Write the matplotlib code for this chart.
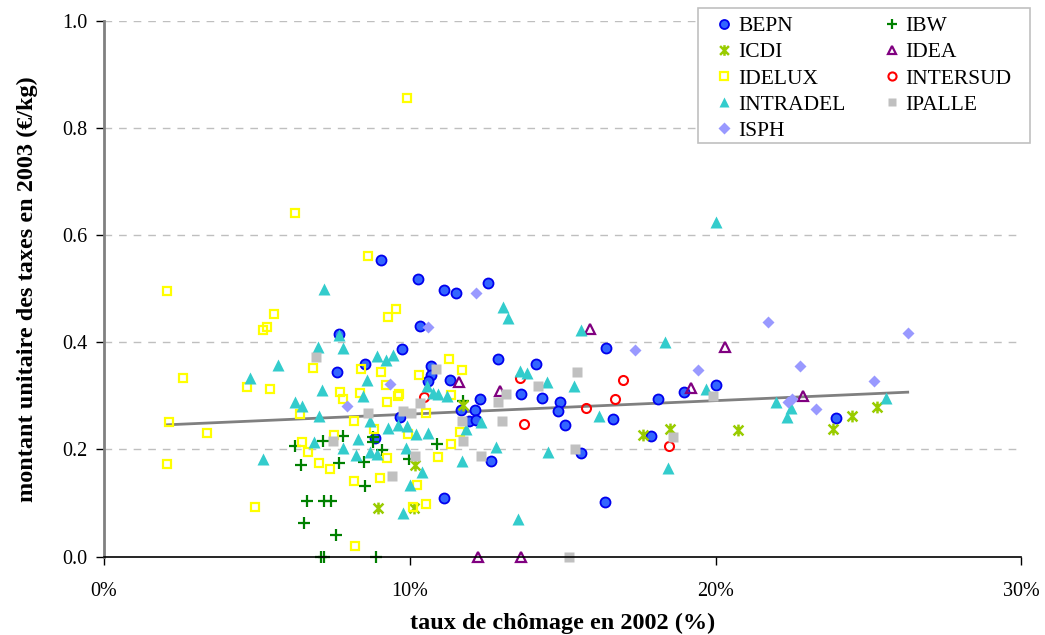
import matplotlib as mpl
mpl.use('Agg')
import matplotlib.pyplot as plt
from matplotlib.path import Path
from matplotlib.patches import Rectangle
from matplotlib.ticker import FuncFormatter, MultipleLocator

plt.rcParams['font.family'] = 'Liberation Serif'

# taux de chomage 2002 (%) / montant unitaire 2003 (EUR/kg), par intercommunale
bepn_x = [9.05, 10.28, 11.11, 11.52, 12.56, 10.33, 7.70, 9.73, 8.54, 7.61,
          12.89, 14.11, 10.68, 10.70, 10.60, 11.31, 13.62, 14.31, 14.91, 12.31,
          12.12, 11.67, 11.93, 12.16, 9.67, 14.83, 15.06, 8.87, 12.67, 11.12,
          16.42, 18.11, 18.96, 20.02, 16.64, 17.89, 15.60, 16.39, 23.94]
bepn_y = [0.553, 0.519, 0.498, 0.493, 0.511, 0.431, 0.415, 0.388, 0.359, 0.344,
          0.369, 0.360, 0.356, 0.339, 0.327, 0.329, 0.303, 0.297, 0.289, 0.294,
          0.274, 0.273, 0.254, 0.255, 0.261, 0.271, 0.246, 0.222, 0.179, 0.109,
          0.390, 0.294, 0.308, 0.321, 0.256, 0.226, 0.194, 0.101, 0.259]

ibw_x = [6.25, 7.17, 7.81, 8.79, 8.79, 9.10, 8.50, 6.44, 7.70, 8.55,
         6.64, 7.21, 7.43, 6.53, 7.59, 7.08, 7.18, 8.88, 11.74, 10.90, 9.97]
ibw_y = [0.207, 0.216, 0.225, 0.213, 0.224, 0.199, 0.177, 0.171, 0.175, 0.132,
         0.103, 0.103, 0.103, 0.063, 0.041, 0.0, 0.0, 0.0, 0.291, 0.210, 0.182]

icdi_x = [8.96, 10.14, 10.16, 11.74, 17.62, 18.52, 20.73, 23.85, 24.45, 25.27]
icdi_y = [0.091, 0.090, 0.171, 0.283, 0.227, 0.238, 0.236, 0.238, 0.263, 0.279]

idea_x = [11.61, 12.96, 15.90, 20.30, 19.20, 22.86, 12.24, 13.63]
idea_y = [0.326, 0.309, 0.425, 0.392, 0.314, 0.300, 0.0, 0.0]

idelux_x = [6.25, 8.63, 2.05, 9.91, 5.57, 5.33, 5.20, 9.56, 9.28, 6.85,
            8.41, 9.07, 2.57, 4.69, 5.44, 7.71, 8.37, 9.22, 7.83, 9.25,
            6.40, 2.14, 8.16, 8.83, 3.36, 7.51, 6.47, 6.68, 9.25, 7.03,
            2.05, 7.39, 9.01, 8.19, 4.93, 8.21, 11.27, 11.69, 10.29, 9.65,
            9.61, 11.36, 10.54, 9.94, 11.63, 11.34, 10.92, 10.25, 10.10, 10.54]
idelux_y = [0.641, 0.562, 0.496, 0.857, 0.453, 0.428, 0.423, 0.463, 0.448, 0.352,
            0.350, 0.344, 0.334, 0.316, 0.312, 0.307, 0.305, 0.320, 0.295, 0.289,
            0.266, 0.252, 0.254, 0.238, 0.230, 0.227, 0.213, 0.195, 0.184, 0.175,
            0.173, 0.164, 0.147, 0.142, 0.093, 0.020, 0.369, 0.349, 0.339, 0.304,
            0.299, 0.302, 0.269, 0.229, 0.232, 0.210, 0.185, 0.134, 0.092, 0.098]

intersud_x = [13.60, 10.45, 13.74, 16.96, 16.72, 15.76, 18.47]
intersud_y = [0.334, 0.298, 0.248, 0.330, 0.294, 0.277, 0.207]

intradel_x = [7.19, 7.70, 6.99, 7.81, 5.68, 8.93, 9.23, 9.45, 4.77, 8.60,
              7.13, 8.47, 6.26, 6.48, 7.04, 8.69, 9.28, 6.88, 8.30, 7.83,
              8.71, 8.93, 8.25, 5.19, 13.04, 13.20, 15.60, 13.60, 13.82, 14.48,
              15.38, 10.56, 10.76, 10.92, 11.23, 12.32, 9.61, 9.92, 10.21, 10.60,
              11.85, 9.89, 12.81, 14.53, 11.72, 10.41, 9.99, 9.78, 13.55, 18.33,
              16.20, 19.69, 21.96, 22.34, 18.43, 20.02, 25.57, 22.45]
intradel_y = [0.500, 0.413, 0.392, 0.390, 0.358, 0.375, 0.367, 0.377, 0.334, 0.330,
              0.311, 0.300, 0.289, 0.282, 0.263, 0.254, 0.240, 0.213, 0.220, 0.202,
              0.196, 0.191, 0.190, 0.182, 0.467, 0.445, 0.423, 0.347, 0.342, 0.326,
              0.319, 0.319, 0.306, 0.303, 0.300, 0.251, 0.246, 0.243, 0.229, 0.230,
              0.238, 0.202, 0.205, 0.195, 0.178, 0.157, 0.134, 0.082, 0.071, 0.400,
              0.263, 0.313, 0.288, 0.261, 0.166, 0.625, 0.297, 0.277]

ipalle_x = [6.93, 8.63, 7.48, 9.42, 10.84, 15.46, 14.20, 13.14, 10.33, 12.89,
            9.78, 10.03, 11.72, 13.03, 11.74, 15.40, 10.16, 12.32, 15.21, 19.92,
            18.61]
ipalle_y = [0.372, 0.268, 0.216, 0.151, 0.350, 0.344, 0.319, 0.304, 0.287, 0.289,
            0.272, 0.268, 0.254, 0.254, 0.215, 0.200, 0.187, 0.188, 0.0, 0.300,
            0.223]

isph_x = [12.16, 10.61, 9.35, 7.93, 17.35, 21.70, 19.43, 26.28, 22.75, 25.19,
          22.38, 22.49, 23.27]
isph_y = [0.492, 0.428, 0.323, 0.281, 0.385, 0.438, 0.349, 0.418, 0.355, 0.328,
          0.289, 0.294, 0.275]

# tendance lineaire (extremites de la droite)
trend_x = [2.05, 26.28]
trend_y = [0.246, 0.307]

# etoile type Excel : croix + trait vertical
star = Path([(-1, -1), (1, 1), (-1, 1), (1, -1), (0, -1.2), (0, 1.2)],
            [Path.MOVETO, Path.LINETO, Path.MOVETO, Path.LINETO, Path.MOVETO, Path.LINETO])

styles = {
    'BEPN': dict(marker='o', ms=7.2, mfc='#3366FF', mec='#0000EE', mew=1.3),
    'IBW': dict(marker='+', ms=8, mec='#008000', mew=1.6),
    'ICDI': dict(marker=star, ms=8.5, mec='#99CC00', mew=1.8),
    'IDEA': dict(marker='^', ms=7, mfc='none', mec='#800080', mew=1.6),
    'IDELUX': dict(marker='s', ms=6.3, mfc='none', mec='#FFFF00', mew=1.6),
    'INTERSUD': dict(marker='o', ms=6.5, mfc='none', mec='#FF0000', mew=1.5),
    'INTRADEL': dict(marker='^', ms=8.5, mfc='#33CCCC', mec='none'),
    'IPALLE': dict(marker='s', ms=7, mfc='#C0C0C0', mec='none'),
    'ISPH': dict(marker='D', ms=6.6, mfc='#9999FF', mec='none'),
}

series = {
    'BEPN': (bepn_x, bepn_y),
    'IBW': (ibw_x, ibw_y),
    'ICDI': (icdi_x, icdi_y),
    'IDEA': (idea_x, idea_y),
    'IDELUX': (idelux_x, idelux_y),
    'INTERSUD': (intersud_x, intersud_y),
    'INTRADEL': (intradel_x, intradel_y),
    'IPALLE': (ipalle_x, ipalle_y),
    'ISPH': (isph_x, isph_y),
}

fig = plt.figure(figsize=(10.45, 6.35), dpi=100)
ax = fig.add_axes([0.0995, 0.1236, 0.878, 0.843])

handles = {}
for name, (xs, ys) in series.items():
    h, = ax.plot(xs, ys, linestyle='none', label=name, clip_on=False, **styles[name])
    handles[name] = h

ax.plot(trend_x, trend_y, color='#808080', lw=2, zorder=1)

ax.set_xlim(0, 30)
ax.set_ylim(0, 1.0)
ax.xaxis.set_major_locator(MultipleLocator(10))
ax.yaxis.set_major_locator(MultipleLocator(0.2))
ax.xaxis.set_major_formatter(FuncFormatter(lambda v, p: '%d%%' % round(v)))
ax.yaxis.set_major_formatter(FuncFormatter(lambda v, p: '%.1f' % v))
ax.tick_params(axis='both', direction='out', length=6, width=1, color='black',
               labelsize=14.5)
ax.tick_params(axis='x', pad=12)
ax.tick_params(axis='y', pad=6)

for yv in [0.2, 0.4, 0.6, 0.8, 1.0]:
    ax.axhline(yv, color='#BFBFBF', lw=1, linestyle=(0, (5.5, 5)), zorder=0)

ax.spines['top'].set_visible(False)
ax.spines['right'].set_visible(False)
ax.spines['left'].set_color('#808080')
ax.spines['left'].set_linewidth(2)
ax.spines['bottom'].set_color('black')
ax.spines['bottom'].set_linewidth(1.2)

ax.set_xlabel('taux de chômage en 2002 (%)', fontsize=17.5, fontweight='bold', labelpad=9)
ax.set_ylabel('montant unitaire des taxes en 2003 (€/kg)', fontsize=17.5, fontweight='bold',
              labelpad=17)

# cadre de la legende
W, H = 1045.0, 635.0
frame = Rectangle((697.7 / W, 1 - 142.7 / H), (1030 - 697.7) / W, (142.7 - 8.3) / H,
                  transform=fig.transFigure, facecolor='white', edgecolor='#C0C0C0',
                  lw=1.2, clip_on=False, zorder=4)
ax.add_patch(frame)

order = ['BEPN', 'ICDI', 'IDELUX', 'INTRADEL', 'ISPH', 'IBW', 'IDEA', 'INTERSUD', 'IPALLE']
leg = ax.legend([handles[n] for n in order], order, ncol=2, loc='upper left',
                bbox_to_anchor=(718.6 / W, 1 - 16.3 / H), bbox_transform=fig.transFigure,
                borderaxespad=0, borderpad=0, fontsize=15.5, frameon=False,
                handlelength=0.5, handletextpad=0.4, columnspacing=1.9,
                labelspacing=0.28, markerscale=0.9)
leg.set_zorder(5)

fig.savefig('out.png', dpi=100)
